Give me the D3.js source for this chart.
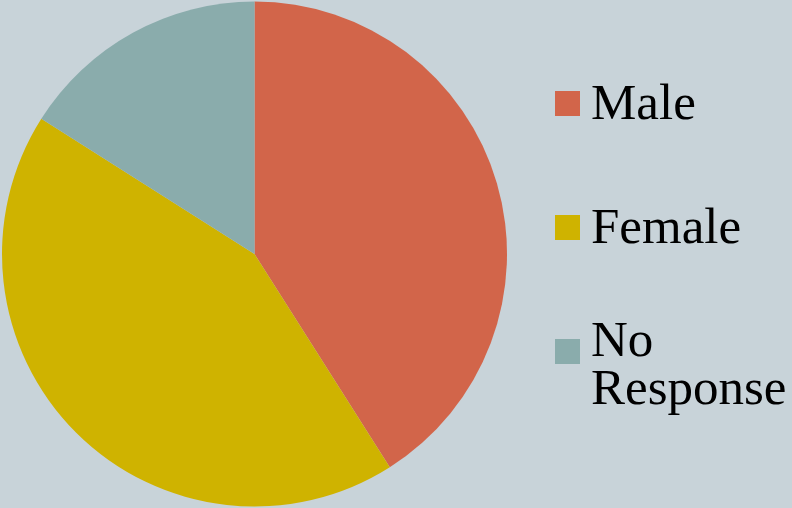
<!DOCTYPE html>
<html>
<head>
<meta charset="utf-8">
<script src="https://cdn.jsdelivr.net/npm/d3@7/dist/d3.min.js"></script>
<style>
  html, body { margin: 0; padding: 0; background: #C8D3D9; }
  svg { display: block; }
</style>
</head>
<body>
<svg id="chart" width="792" height="508"></svg>
<script>
// Survey respondents by gender (percent)
const categories = ["Male", "Female", "No Response"];
const values = [41, 43, 16];
const colors = ["#D2654A", "#CFB300", "#8AACAC"];
// Legend label lines per category
const legendLines = [["Male"], ["Female"], ["No", "Response"]];

const svg = d3.select("#chart");
const W = 792, H = 508;

const cx = 254.5, cy = 254, radius = 252.5;

const pie = d3.pie().sort(null).value(d => d.value);
const arc = d3.arc().innerRadius(0).outerRadius(radius);
const color = d3.scaleOrdinal().domain(categories).range(colors);

const data = categories.map((c, i) => ({ name: c, value: values[i] }));

svg.append("g")
  .attr("transform", `translate(${cx},${cy})`)
  .selectAll("path")
  .data(pie(data))
  .join("path")
  .attr("d", arc)
  .attr("fill", d => color(d.data.name));

// Legend: a swatch and one or two text lines per entry
const legendY = d3.scalePoint().domain(categories).range([91, 339]);
const fontSize = 51, lineHeight = 48;

const items = svg.append("g").selectAll("g")
  .data(categories)
  .join("g")
  .attr("transform", d => `translate(555,${legendY(d)})`);

items.append("rect")
  .attr("width", 25).attr("height", 25)
  .attr("fill", d => color(d));

items.each(function(d, i) {
  const lines = legendLines[i];
  const t = d3.select(this).append("text")
    .attr("x", 36)
    .attr("font-family", "'Liberation Serif', 'Times New Roman', serif")
    .attr("font-size", fontSize)
    .attr("fill", "#000");
  lines.forEach((ln, j) => {
    t.append("tspan")
      .attr("x", 36)
      .attr("y", (lines.length > 1 ? 17 : 28) + j * lineHeight)
      .text(ln);
  });
});
</script>
</body>
</html>
